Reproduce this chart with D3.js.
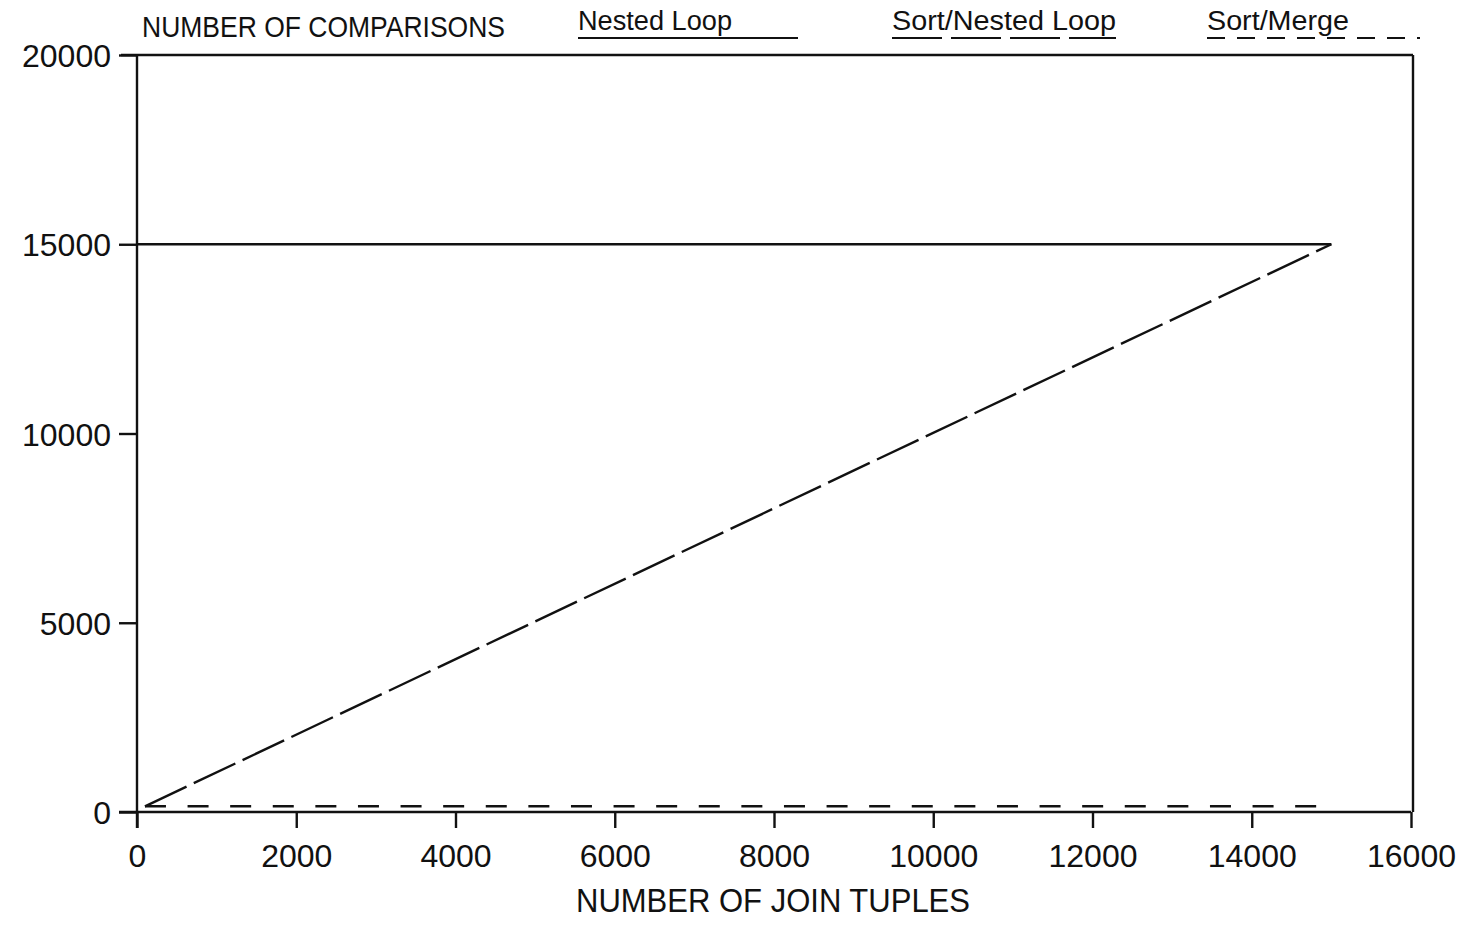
<!DOCTYPE html>
<html lang="en">
  <head>
    <meta charset="utf-8">
    <title>Number of comparisons vs join tuples</title>
    <script type="text/javascript" src="https://cdn.jsdelivr.net/npm/d3@7"></script>
    <style>
      body { margin: 0; background: #fff; }
      text { font-family: "Liberation Sans", Arial, sans-serif; fill: #111; }
    </style>
  </head>
  <body>
    <script type="text/javascript">
      var width = 1467;
      var height = 925;

      // data
      var xTicks = [0, 2000, 4000, 6000, 8000, 10000, 12000, 14000, 16000];
      var yTicks = [0, 5000, 10000, 15000, 20000];
      var nestedLoopX = [0, 15000];
      var nestedLoopY = [15000, 15000];
      var sortNestedX = [100, 15000];
      var sortNestedY = [150, 15000];
      var sortMergeX = [100, 15000];
      var sortMergeY = [150, 150];

      var yTitle = "NUMBER OF COMPARISONS";
      var xTitle = "NUMBER OF JOIN TUPLES";
      var legendNames = ["Nested Loop", "Sort/Nested Loop", "Sort/Merge"];

      var xScale = d3.scaleLinear().domain([0, 16000]).range([137, 1411]);
      var yScale = d3.scaleLinear().domain([0, 20000]).range([812, 55]);

      var svg = d3.select("body")
            .append("svg")
            .attr("width", width)
            .attr("height", height);

      var ink = "#111";
      var sw = 2.4;

      // frame
      var frame = svg.append("g")
            .attr("stroke", ink)
            .attr("stroke-width", sw)
            .attr("fill", "none");
      frame.append("line")
           .attr("x1", xScale(0) - 18).attr("x2", xScale(16000))
           .attr("y1", yScale(0)).attr("y2", yScale(0));
      frame.append("line")
           .attr("x1", xScale(0) - 16).attr("x2", xScale(16000) + 2)
           .attr("y1", yScale(20000)).attr("y2", yScale(20000));
      frame.append("line")
           .attr("x1", xScale(0)).attr("x2", xScale(0))
           .attr("y1", yScale(20000)).attr("y2", yScale(0) + 16);
      frame.append("line")
           .attr("x1", xScale(16000) + 2).attr("x2", xScale(16000) + 2)
           .attr("y1", yScale(20000)).attr("y2", yScale(0));

      // axes
      var xAxis = d3.axisBottom(xScale)
            .tickValues(xTicks)
            .tickSize(16)
            .tickSizeOuter(0)
            .tickPadding(16)
            .tickFormat(d3.format("d"));
      var gx = svg.append("g")
            .attr("transform", "translate(0," + yScale(0) + ")")
            .call(xAxis);

      var yAxis = d3.axisLeft(yScale)
            .tickValues(yTicks)
            .tickSize(18)
            .tickSizeOuter(0)
            .tickPadding(8)
            .tickFormat(d3.format("d"));
      var gy = svg.append("g")
            .attr("transform", "translate(" + xScale(0) + ",0)")
            .call(yAxis);

      [gx, gy].forEach(function(g) {
        g.select(".domain").remove();
        g.selectAll(".tick line").attr("stroke", ink).attr("stroke-width", sw);
        g.selectAll(".tick text")
         .attr("fill", ink)
         .attr("font-family", "DejaVu Sans, sans-serif")
         .attr("font-size", "32px");
      });
      gy.selectAll(".tick text").attr("dy", "0.36em");

      // series
      var line = d3.line()
            .x(function(d) { return xScale(d[0]); })
            .y(function(d) { return yScale(d[1]); });

      function zip(xs, ys) {
        return xs.map(function(x, i) { return [x, ys[i]]; });
      }

      var series = [
        { pts: zip(nestedLoopX, nestedLoopY), dash: null },
        { pts: zip(sortNestedX, sortNestedY), dash: "46,8" },
        { pts: zip(sortMergeX, sortMergeY), dash: "21,21.6" }
      ];

      svg.selectAll("path.series")
         .data(series)
         .enter()
         .append("path")
         .attr("class", "series")
         .attr("d", function(d) { return line(d.pts); })
         .attr("fill", "none")
         .attr("stroke", ink)
         .attr("stroke-width", sw)
         .attr("stroke-dasharray", function(d) { return d.dash; });

      // titles
      svg.append("text")
         .attr("x", 142).attr("y", 37)
         .attr("font-size", "30px")
         .attr("textLength", 363)
         .attr("lengthAdjust", "spacingAndGlyphs")
         .text(yTitle);

      svg.append("text")
         .attr("x", 576).attr("y", 912)
         .attr("font-size", "34px")
         .attr("textLength", 394)
         .attr("lengthAdjust", "spacingAndGlyphs")
         .text(xTitle);

      // legend
      var legend = [
        { name: legendNames[0], x: 578, w: 154, x2: 798, dash: null },
        { name: legendNames[1], x: 892, w: 224, x2: 1116, dash: "50,9" },
        { name: legendNames[2], x: 1207, w: 142, x2: 1420, dash: "18,12" }
      ];

      var lg = svg.selectAll("g.legend")
            .data(legend)
            .enter()
            .append("g")
            .attr("class", "legend");

      lg.append("text")
        .attr("x", function(d) { return d.x; })
        .attr("y", 30)
        .attr("font-size", "27px")
        .attr("textLength", function(d) { return d.w; })
        .attr("lengthAdjust", "spacingAndGlyphs")
        .text(function(d) { return d.name; });

      lg.append("line")
        .attr("x1", function(d) { return d.x; })
        .attr("x2", function(d) { return d.x2; })
        .attr("y1", 38).attr("y2", 38)
        .attr("stroke", ink)
        .attr("stroke-width", 2.2)
        .attr("stroke-dasharray", function(d) { return d.dash; });
    </script>
  </body>
</html>
